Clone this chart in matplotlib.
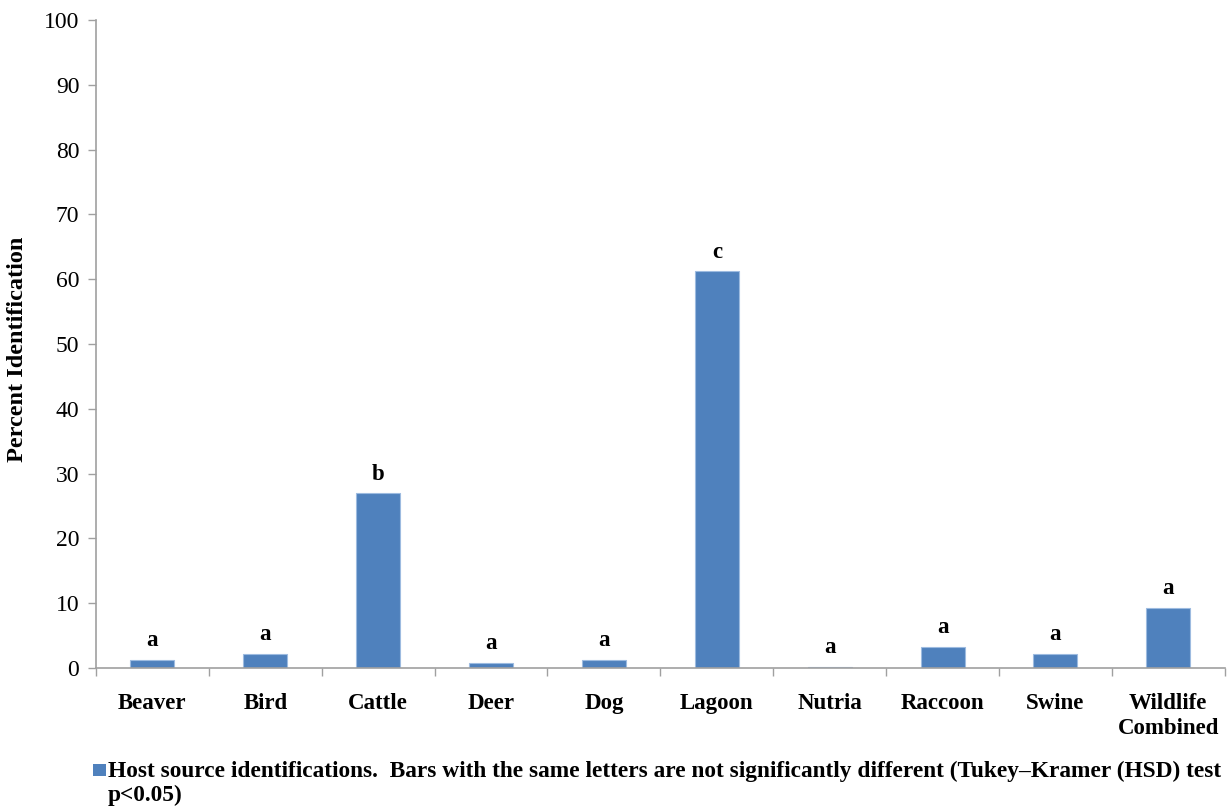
import matplotlib.pyplot as plt
from matplotlib.patches import Rectangle

hosts = ['Beaver', 'Bird', 'Cattle', 'Deer', 'Dog', 'Lagoon', 'Nutria',
         'Raccoon', 'Swine', 'Wildlife\nCombined']
percent = [1.3, 2.2, 27.0, 0.8, 1.3, 61.2, 0.2, 3.3, 2.2, 9.3]
letters = ['a', 'a', 'b', 'a', 'a', 'c', 'a', 'a', 'a', 'a']

plt.rcParams['font.family'] = 'Liberation Serif'

fig = plt.figure(figsize=(12.27, 8.10), dpi=100)
ax = fig.add_axes([0.0782, 0.1753, 0.92, 0.80])

x = list(range(len(hosts)))
ax.bar(x, percent, width=0.39, color='#4f81bd', edgecolor='#9dbbe0', linewidth=0.8)

for i in x:
    ax.annotate(letters[i], (i, percent[i]), xytext=(0, 6), textcoords='offset points',
                ha='center', va='bottom', fontsize=16.5, fontweight='bold')

ax.set_xlim(-0.5, len(hosts) - 0.5)
ax.set_ylim(0, 100)
ax.set_yticks(range(0, 101, 10))
ax.tick_params(axis='y', labelsize=17, length=6, color='#a0a0a0', width=1, pad=6)
ax.set_xticks(x)
ax.set_xticklabels(hosts, fontsize=16.5, fontweight='bold', linespacing=1.25)
ax.tick_params(axis='x', length=0, pad=18)
ax.set_xticks([-0.5] + [i + 0.5 for i in x], minor=True)
ax.tick_params(axis='x', which='minor', length=6, color='#a0a0a0', width=1)

for s in ['top', 'right']:
    ax.spines[s].set_visible(False)
for s in ['left', 'bottom']:
    ax.spines[s].set_color('#a0a0a0')
    ax.spines[s].set_linewidth(1.2)

ax.set_ylabel('Percent Identification', fontsize=17.5, fontweight='bold')
ax.yaxis.set_label_coords(-0.06, 0.492)

fig.patches.append(Rectangle((0.0755, 0.0425), 0.0105, 0.0148, transform=fig.transFigure,
                             facecolor='#4f81bd', edgecolor='none'))
fig.text(0.088, 0.0605, 'Host source identifications.  Bars with the same letters are not '
         'significantly different (Tukey\u2013Kramer (HSD) test\np<0.05)',
         fontsize=16.8, fontweight='bold', va='top', ha='left', linespacing=1.15)

fig.savefig('out.png', dpi=100)
